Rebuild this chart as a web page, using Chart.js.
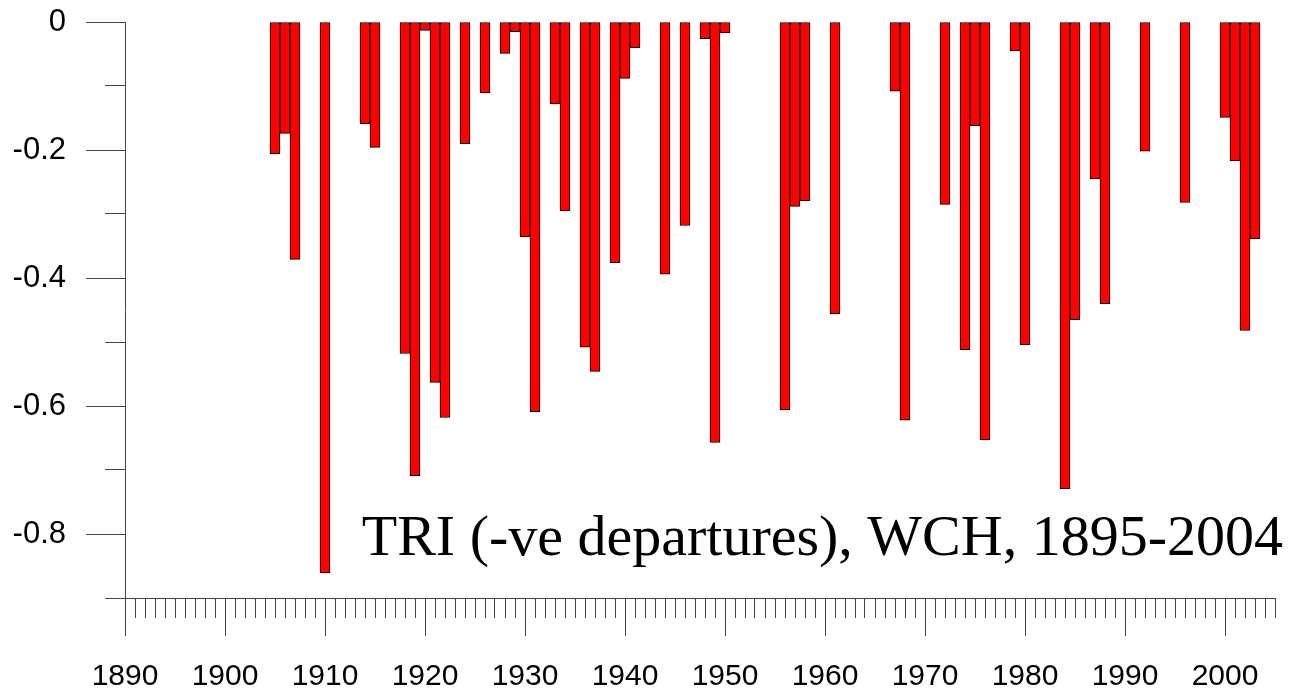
<!DOCTYPE html>
<html>
<head>
<meta charset="utf-8">
<title>TRI (-ve departures), WCH, 1895-2004</title>
<script src="https://cdn.jsdelivr.net/npm/chart.js@4/dist/chart.umd.min.js"></script>
<style>
  html, body { margin: 0; padding: 0; background: #fff; }
  #wrap { position: relative; width: 1291px; height: 691px; }
</style>
</head>
<body>
<div id="wrap"><canvas id="triChart"></canvas></div>
<script>
'use strict';

// years with a negative departure, and the departure for each
const years = [
  1905, 1906, 1907, 1910, 1914, 1915, 1918, 1919, 1920, 1921,
  1922, 1924, 1926, 1928, 1929, 1930, 1931, 1933, 1934, 1936,
  1937, 1939, 1940, 1941, 1944, 1946, 1948, 1949, 1950, 1956,
  1957, 1958, 1961, 1967, 1968, 1972, 1974, 1975, 1976, 1979,
  1980, 1984, 1985, 1987, 1988, 1992, 1996, 2000, 2001, 2002,
  2003
];
const departures = [
  -0.206, -0.174, -0.371, -0.861, -0.159, -0.196, -0.518, -0.709, -0.013, -0.563,
  -0.618, -0.190, -0.111, -0.049, -0.015, -0.336, -0.609, -0.128, -0.295, -0.508,
  -0.546, -0.376, -0.088, -0.040, -0.394, -0.318, -0.026, -0.657, -0.017, -0.606,
  -0.288, -0.279, -0.456, -0.108, -0.622, -0.285, -0.512, -0.162, -0.653, -0.045,
  -0.504, -0.729, -0.465, -0.245, -0.440, -0.202, -0.282, -0.149, -0.217, -0.482,
  -0.339
];

// axis ranges and labelled ticks
const xRange = [1890, 2005];
const yRange = [-0.9, 0];
const xLabelEvery = 10;     // years
const yLabelEvery = 0.2;

const chartTitle = 'TRI (-ve departures), WCH, 1895-2004';

const axisColor = '#444';

// text inside the plot, lower right
const titlePlugin = {
  id: 'insideTitle',
  afterDraw(chart) {
    const { ctx, chartArea } = chart;
    ctx.save();
    ctx.font = '58px "Liberation Serif", "Times New Roman", serif';
    ctx.fillStyle = '#000';
    ctx.textAlign = 'right';
    ctx.textBaseline = 'alphabetic';
    ctx.fillText(chartTitle, chartArea.right + 8, chartArea.bottom - 43);
    ctx.restore();
  }
};

const tri_data = {
  datasets: [{
    label: 'TRI',
    data: years.map((yr, i) => ({ x: yr, y: departures[i] })),
    backgroundColor: '#ff0000',
    borderColor: '#000000',
    borderWidth: 1,
    borderSkipped: false,
    barPercentage: 1.0,
    categoryPercentage: 1.0
  }]
};

const tri_config = {
  type: 'bar',
  data: tri_data,
  plugins: [titlePlugin],
  options: {
    responsive: true,
    maintainAspectRatio: false,
    animation: false,
    layout: { padding: { top: 22, right: 16, left: 0, bottom: 0 } },
    plugins: {
      legend: { display: false },
      tooltip: { enabled: false }
    },
    scales: {
      x: {
        type: 'linear',
        min: xRange[0],
        max: xRange[1],
        offset: false,
        grid: {
          offset: false,
          drawOnChartArea: false,
          tickLength: 38,
          tickColor: axisColor,
          tickWidth: 1,
          tickBorderDash: ctx => (ctx.tick.value % xLabelEvery === 0 ? [] : [19, 1000])
        },
        border: { color: axisColor, width: 1 },
        ticks: {
          stepSize: 1,
          autoSkip: false,
          maxRotation: 0,
          padding: 23,
          color: '#000',
          font: { family: '"Liberation Sans", Arial, sans-serif', size: 30 },
          callback: v => (v % xLabelEvery === 0 ? String(v) : '')
        },
        afterFit: s => {
          s.height = 93;
          s.paddingLeft = 0;
          s.paddingRight = 0;
        }
      },
      y: {
        min: yRange[0],
        max: yRange[1],
        grid: {
          drawOnChartArea: false,
          tickLength: 39,
          tickColor: axisColor,
          tickWidth: 1,
          tickBorderDash: ctx => {
            const k = Math.round(ctx.tick.value * 10);
            return k % Math.round(yLabelEvery * 10) === 0 ? [] : [0, 19, 20, 1000];
          }
        },
        border: { color: axisColor, width: 1 },
        ticks: {
          stepSize: 0.1,
          padding: 20,
          color: '#000',
          font: { family: '"Liberation Sans", Arial, sans-serif', size: 31 },
          callback: v => {
            const k = Math.round(v * 10);
            if (k % Math.round(yLabelEvery * 10) !== 0) return '';
            return k === 0 ? '0' : String(k / 10);
          }
        },
        afterFit: s => {
          s.width = 125;
          s.paddingTop = 0;
          s.paddingBottom = 0;
        }
      }
    }
  }
};

const triChart = new Chart(
  document.getElementById('triChart'),
  tri_config
);
</script>
</body>
</html>
